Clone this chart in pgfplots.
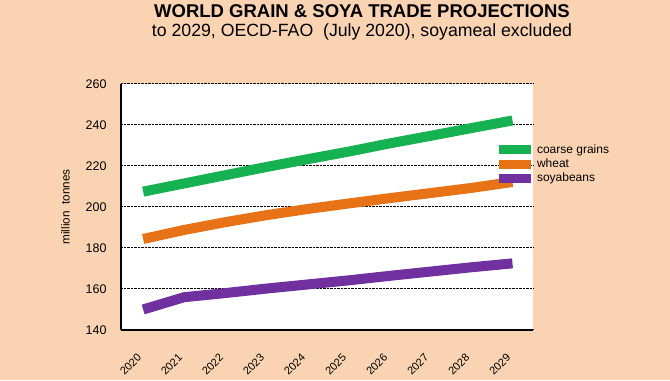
\documentclass[border=0pt]{standalone}
\usepackage{fontspec}
\setmainfont{Liberation Sans}
\usepackage{pgfplots}
\pgfplotsset{compat=1.18}
\definecolor{bg}{RGB}{250,212,178}
\definecolor{cgreen}{RGB}{22,178,82}
\definecolor{corange}{RGB}{232,114,22}
\definecolor{cpurple}{RGB}{112,48,160}
\begin{document}
\begin{tikzpicture}[x=1pt,y=1pt]
\fill[bg] (0,0) rectangle (670,380);
\node[font=\bfseries\fontsize{18.5}{21}\selectfont, anchor=base] at (362,362) {WORLD GRAIN \& SOYA TRADE PROJECTIONS};
\node[font=\fontsize{17.7}{20}\selectfont, anchor=base] at (362,343) {to 2029, OECD-FAO\ \ (July 2020), soyameal excluded};
\begin{axis}[
  at={(121pt,50pt)}, anchor=south west, scale only axis,
  width=412pt, height=246pt,
  xmin=2019.46, xmax=2029.5, ymin=140, ymax=260,
  ytick={140,160,...,260}, xtick={2020,...,2029},
  axis lines=left, axis line style={-, line width=1.6pt, black},
  axis background/.style={fill=white},
  major tick length=0pt,
  ymajorgrids, major grid style={densely dotted, line width=1pt, black},
  /pgf/number format/assume math mode=true,
  /pgf/number format/1000 sep={},
  yticklabel style={font=\fontsize{12.5}{14}\selectfont, xshift=-11pt},
  xticklabel style={font=\fontsize{11}{13}\selectfont, rotate=45, anchor=east, xshift=-17.6pt, yshift=-15.6pt},
  ylabel={million\ \ tonnes},
  ylabel style={font=\fontsize{11.7}{13}\selectfont, at={(axis description cs:-0.135,0.5)}, anchor=center},
  legend style={at={(0.905,0.762)}, anchor=north west, draw=none, fill=none,
    font=\fontsize{12}{14}\selectfont, inner sep=0pt, row sep=0pt, cells={anchor=west}},
  legend image code/.code={\draw[line width=9pt] (0pt,0pt) -- (32pt,0pt);},
]
\addplot[cgreen, line width=10pt] coordinates {(2020,207.5) (2021,211.5) (2022,215.5) (2023,219.5) (2024,223.3) (2025,227) (2026,231) (2027,234.7) (2028,238.5) (2029,242.2)};
\addlegendentry{coarse grains}
\addplot[corange, line width=10pt] coordinates {(2020,184.4) (2021,188.8) (2022,192.6) (2023,196) (2024,199) (2025,201.7) (2026,204.3) (2027,206.8) (2028,209.3) (2029,212.2)};
\addlegendentry{wheat}
\addplot[cpurple, line width=10pt] coordinates {(2020,150) (2021,156) (2022,158) (2023,160.2) (2024,162.2) (2025,164.2) (2026,166.4) (2027,168.5) (2028,170.6) (2029,172.5)};
\addlegendentry{soyabeans}
\end{axis}
\end{tikzpicture}
\end{document}
